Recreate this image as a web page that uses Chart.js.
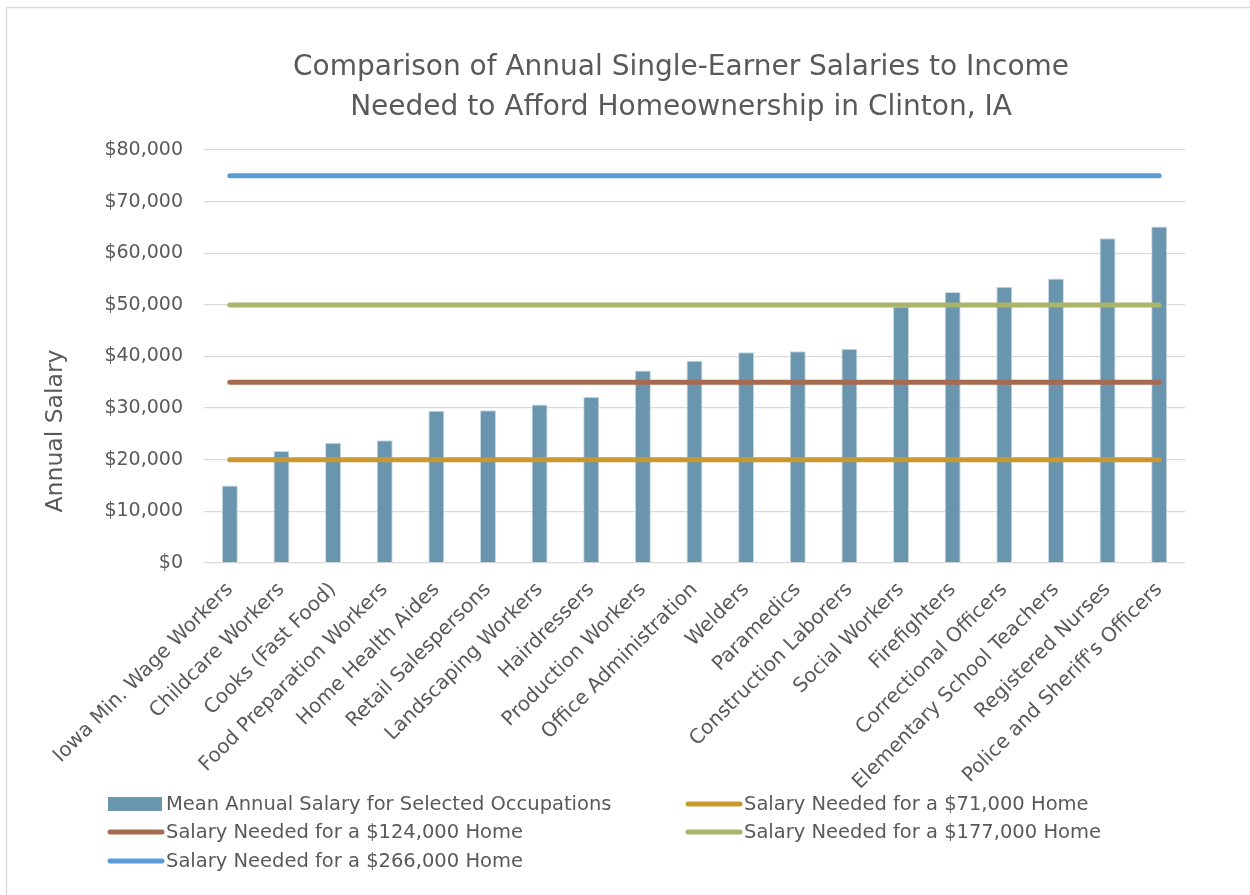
<!DOCTYPE html>
<html>
<head>
<meta charset="utf-8">
<script src="https://cdn.jsdelivr.net/npm/chart.js@4"></script>
<style>
  html, body { margin: 0; padding: 0; background: #fff; }
  #wrap { width: 1250px; height: 895px; position: relative; }
</style>
</head>
<body>
<div id="wrap"><canvas id="salary-chart" width="1250" height="895"></canvas></div>
<script>
// 직업별 평균 연봉
const occupations = [
  'Iowa Min. Wage Workers', 'Childcare Workers', 'Cooks (Fast Food)',
  'Food Preparation Workers', 'Home Health Aides', 'Retail Salespersons',
  'Landscaping Workers', 'Hairdressers', 'Production Workers',
  'Office Administration', 'Welders', 'Paramedics', 'Construction Laborers',
  'Social Workers', 'Firefighters', 'Correctional Officers',
  'Elementary School Teachers', 'Registered Nurses', "Police and Sheriff's Officers"
];
const meanSalary = [
  15000, 21700, 23300, 23800, 29500, 29600, 30700, 32200, 37300,
  39200, 40800, 41000, 41500, 49700, 52500, 53500, 55100, 62900, 65200
];

// 주택 가격별 필요 연봉
const homePrices = ['$71,000', '$124,000', '$177,000', '$266,000'];
const salaryNeeded = [20000, 35000, 50000, 75000];
const lineColors = ['#C9992F', '#A66A50', '#AAB46A', '#5B9BD5'];

const titleLines = [
  'Comparison of Annual Single-Earner Salaries to Income',
  'Needed to Afford Homeownership in Clinton, IA'
];
const yTitle = 'Annual Salary';
const yMin = 0, yMax = 80000, yStep = 10000;

const textColor = '#595959';
const fontFamily = "'DejaVu Sans', 'Open Sans', sans-serif";

const datasets = [{
  type: 'bar',
  label: 'Mean Annual Salary for Selected Occupations',
  data: meanSalary,
  backgroundColor: '#6A95AE',
  borderColor: '#C8D9E3',
  borderWidth: 1,
  barPercentage: 0.31,
  categoryPercentage: 1,
  order: 10
}];
for (let i = 0; i < salaryNeeded.length; i++) {
  datasets.push({
    type: 'line',
    label: 'Salary Needed for a ' + homePrices[i] + ' Home',
    data: occupations.map(() => salaryNeeded[i]),
    borderColor: lineColors[i],
    backgroundColor: lineColors[i],
    borderWidth: 5,
    borderCapStyle: 'round',
    pointRadius: 0,
    fill: false,
    order: 5 - i
  });
}

// 테두리, 제목, 축 제목, 범례 그리기
const decorPlugin = {
  id: 'decor',
  beforeDraw(chart) {
    const ctx = chart.ctx;
    ctx.save();
    ctx.strokeStyle = '#d9d9d9';
    ctx.lineWidth = 1.5;
    ctx.strokeRect(6.5, 7.5, 1300, 950);
    ctx.restore();
  },
  afterDraw(chart) {
    const ctx = chart.ctx;
    ctx.save();
    ctx.fillStyle = textColor;
    ctx.textAlign = 'center';
    ctx.textBaseline = 'middle';
    ctx.font = '28px ' + fontFamily;
    ctx.fillText(titleLines[0], 681, 68);
    ctx.fillText(titleLines[1], 681, 108);

    // y축 제목
    ctx.save();
    ctx.translate(56, 431);
    ctx.rotate(-Math.PI / 2);
    ctx.font = '23.5px ' + fontFamily;
    ctx.fillText(yTitle, 0, 0);
    ctx.restore();

    // 범례 (2열)
    const cols = [108, 686];
    const rows = [804, 832, 861];
    ctx.textAlign = 'left';
    ctx.font = '19.5px ' + fontFamily;
    chart.data.datasets.forEach((ds, i) => {
      const x = cols[i % 2];
      const y = rows[Math.floor(i / 2)];
      if (ds.type === 'bar') {
        ctx.fillStyle = ds.backgroundColor;
        ctx.fillRect(x, y - 7, 54, 14);
      } else {
        ctx.strokeStyle = ds.borderColor;
        ctx.lineWidth = 5;
        ctx.lineCap = 'round';
        ctx.beginPath();
        ctx.moveTo(x + 2, y);
        ctx.lineTo(x + 54, y);
        ctx.stroke();
      }
      ctx.fillStyle = textColor;
      ctx.fillText(ds.label, x + 58, y + 1);
    });
    ctx.restore();
  }
};

const ctx = document.getElementById('salary-chart').getContext('2d');
const chart = new Chart(ctx, {
  data: {
    labels: occupations,
    datasets: datasets
  },
  options: {
    responsive: false,
    animation: false,
    layout: {
      padding: { top: 150, right: 65, bottom: 92, left: 0 }
    },
    plugins: {
      legend: { display: false },
      title: { display: false },
      tooltip: { enabled: false }
    },
    scales: {
      x: {
        grid: { display: false },
        border: { display: false },
        ticks: {
          color: textColor,
          font: { family: fontFamily, size: 20 },
          maxRotation: 45,
          minRotation: 45,
          autoSkip: false,
          padding: 7
        },
        afterFit(scale) { scale.height = 240; }
      },
      y: {
        min: yMin,
        max: yMax,
        grid: { color: '#d9d9d9', lineWidth: 1.3, drawTicks: false },
        border: { display: false },
        ticks: {
          stepSize: yStep,
          color: textColor,
          font: { family: fontFamily, size: 19 },
          padding: 21,
          callback: (v) => '$' + v.toLocaleString('en-US')
        },
        afterFit(scale) { scale.width = 204; }
      }
    }
  },
  plugins: [decorPlugin]
});
</script>
</body>
</html>
